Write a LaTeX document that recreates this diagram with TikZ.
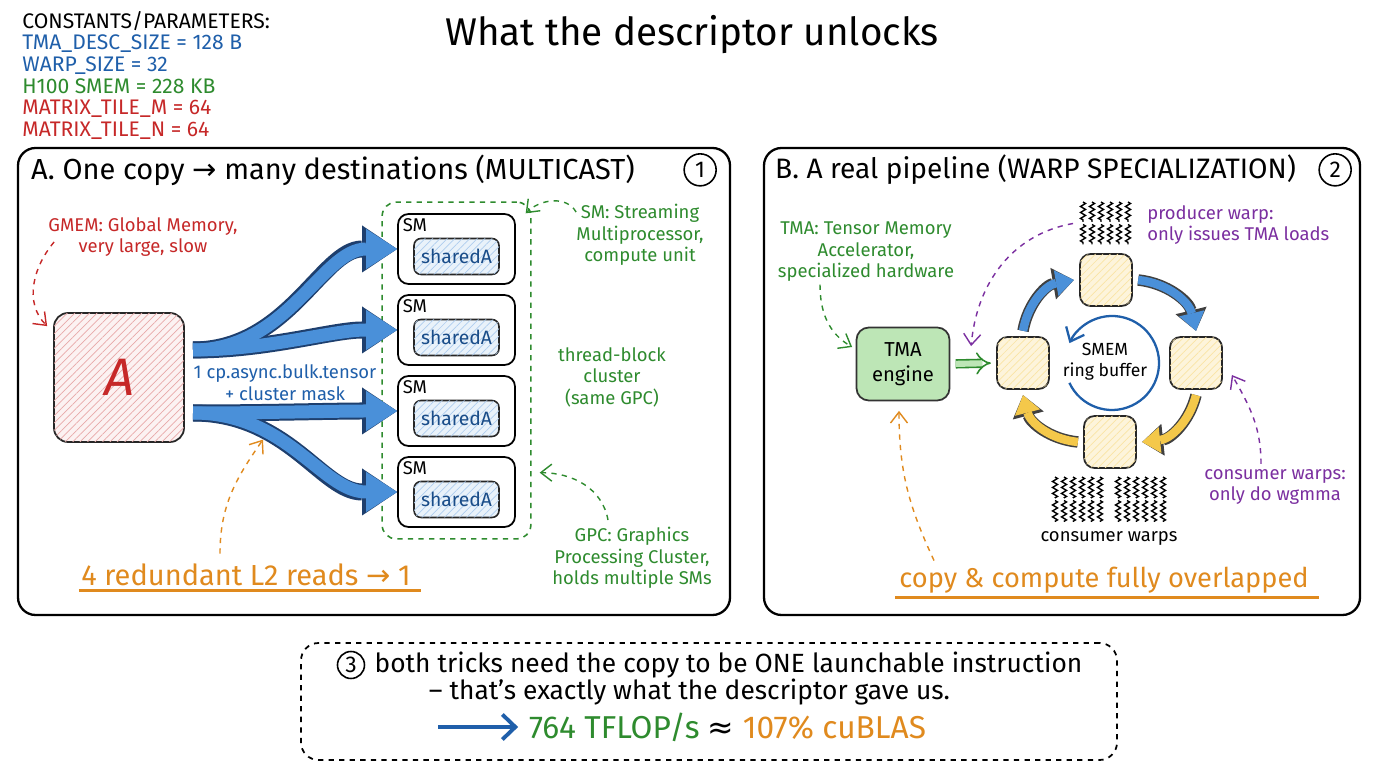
\documentclass[tikz,border=0pt]{standalone}
\usepackage{fontspec}
\setmainfont{Fira Sans}
\newfontfamily\dejavu{DejaVu Sans}
\usetikzlibrary{arrows.meta, positioning, calc, fit, patterns.meta, decorations.pathmorphing}
\definecolor{inkblue}{HTML}{1F5FAA}
\definecolor{inkgreen}{HTML}{2E8B2E}
\definecolor{inkred}{HTML}{C62828}
\definecolor{inkorange}{HTML}{E08A1E}
\definecolor{inkpurple}{HTML}{7B2FA0}
\definecolor{flowblue}{HTML}{4A90D9}
\definecolor{flowedge}{HTML}{1E3F6E}
\definecolor{ringyellow}{HTML}{F4C84A}
\definecolor{tmagreen}{HTML}{BDE6B6}
\tikzset{
    panel/.style={draw=black, line width=1.3pt, rounded corners=10pt, minimum height=9.34cm},
    paneltitle/.style={anchor=west, inner sep=0pt, font=\fontsize{16.5}{19}\selectfont},
    numcirc/.style={circle, draw=black, line width=0.9pt, minimum size=0.64cm, inner sep=0pt, font=\fontsize{13}{13}\selectfont},
    note/.style={align=center, inner sep=0pt, font=\fontsize{10.5}{12.2}\selectfont},
    notearrow/.style={dashed, line width=0.8pt, -{Straight Barb[length=2.2mm, width=3.4mm]}},
    hatch/.style={postaction={pattern={Lines[angle=45, distance=3pt, line width=0.4pt]}, pattern color=#1}},
    gmembox/.style={draw=black!85, line width=1pt, rounded corners=8pt, fill=inkred!6, hatch=inkred!40, minimum width=2.6cm, minimum height=2.58cm, text=inkred, font=\fontsize{30}{30}\selectfont\itshape},
    smbox/.style={draw=black, line width=1pt, rounded corners=6pt, minimum width=2.34cm, minimum height=1.4cm},
    sharedbox/.style={draw=black!85, line width=0.9pt, rounded corners=4pt, fill=flowblue!12, hatch=flowblue!45, minimum width=1.7cm, minimum height=0.72cm, text=inkblue!80!black, font=\fontsize{11}{11}\selectfont},
    cluster/.style={draw=inkgreen, dashed, line width=0.9pt, rounded corners=8pt, inner xsep=0.3cm, inner ysep=0.22cm},
    flowout/.style={draw=flowedge, line width=0.34cm, -{Triangle[length=0.7cm, width=0.94cm, line width=0pt]}},
    flowin/.style={draw=flowblue, line width=0.26cm, -{Triangle[length=0.62cm, width=0.8cm, line width=0pt]}},
    tmabox/.style={draw=black!80, line width=1pt, rounded corners=7pt, fill=tmagreen, minimum width=1.86cm, minimum height=1.46cm, align=center, font=\fontsize{11.5}{14}\selectfont},
    slotbox/.style={draw=black!85, line width=1pt, rounded corners=6pt, fill=ringyellow!20, hatch=ringyellow!50, minimum width=1.04cm, minimum height=1.04cm},
    hollowarrow/.style={draw=inkgreen, line width=0.9pt, double=tmagreen, double distance=3.5pt, -{Implies}},
    ringflow/.style={draw=#1, line width=0.17cm, -{Triangle[length=0.36cm, width=0.52cm, line width=0pt]},
        preaction={draw=black!75, line width=0.23cm, -{Triangle[length=0.42cm, width=0.64cm, line width=0pt]}}},
    warpline/.style={decorate, decoration={zigzag, segment length=3.4pt, amplitude=1.4pt}, line width=0.8pt},
    bignote/.style={inner sep=0pt, text=inkorange},
    underline/.style={draw=inkorange, line width=1.6pt}
}
\begin{document}
\begin{tikzpicture}
    \useasboundingbox (0,0) rectangle (27.52,15.36);
    \fill[white] (0,0) rectangle (27.52,15.36);

    % header
    \node[note, align=left, anchor=north west, font=\fontsize{12}{12.3}\selectfont] (consts) at (0.44,15.14) {CONSTANTS/PARAMETERS:\\
        \textcolor{inkblue}{TMA\_DESC\_SIZE = 128 B}\\
        \textcolor{inkblue}{WARP\_SIZE = 32}\\
        \textcolor{inkgreen}{H100 SMEM = 228 KB}\\
        \textcolor{inkred}{MATRIX\_TILE\_M = 64}\\
        \textcolor{inkred}{MATRIX\_TILE\_N = 64}};
    \node[font=\fontsize{22}{24}\selectfont] (title) at (13.84,14.66) {What the descriptor unlocks};

    % panels
    \node[panel, minimum width=14.24cm] (panelA) at (7.48,7.73) {};
    \node[panel, minimum width=11.92cm] (panelB) at (21.24,7.73) {};
    \node[paneltitle] (titleA) at ($(panelA.north west)+(0.28,-0.46)$) {A. One copy {\dejavu →} many destinations (MULTICAST)};
    \node[numcirc] (numA) at ($(panelA.north east)+(-0.62,-0.46)$) {1};
    \node[paneltitle, font=\fontsize{16}{19}\selectfont] (titleB) at ($(panelB.north west)+(0.24,-0.46)$) {B. A real pipeline (WARP SPECIALIZATION)};
    \node[numcirc] (numB) at ($(panelB.north east)+(-0.52,-0.46)$) {2};

    % A: multicast
    \node[note, text=inkred] (gmemlbl) at (2.86,10.62) {GMEM: Global Memory,\\very large, slow};
    \node[gmembox] (gmem) at (2.38,7.81) {A};
    \foreach \i/\y in {1/10.38, 2/8.76, 3/7.14, 4/5.52} {
        \node[smbox, label={[anchor=north west, inner sep=3pt, font=\fontsize{10.5}{11}\selectfont]north west:SM}] (sm\i) at (9.13,\y) {};
        \node[sharedbox] (sh\i) at ($(sm\i.center)+(0,-0.15)$) {sharedA};
    }
    \node[cluster, fit=(sm1)(sm4)] (cluster) {};
    \coordinate (trunkT) at (3.86,8.36);
    \coordinate (trunkB) at (3.86,7.10);
    \foreach \sty in {flowout, flowin} {
        \draw[\sty] (trunkT) .. controls +(1.9,0) and +(-1.5,0) .. (sm1.west);
        \draw[\sty] (trunkT) .. controls +(1.5,0) and +(-1.3,0) .. (sm2.west);
        \draw[\sty] (trunkB) .. controls +(1.5,0) and +(-1.3,0) .. (sm3.west);
        \draw[\sty] (trunkB) .. controls +(1.9,0) and +(-1.5,0) .. (sm4.west);
    }
    \node[note, text=inkblue] (copylbl) at (5.70,7.71) {1 cp.async.bulk.tensor\\+ cluster mask};
    \node[note, text=inkgreen] (smlbl) at (12.80,10.66) {SM: Streaming\\Multiprocessor,\\compute unit};
    \node[note, text=inkgreen] (threadlbl) at (12.24,7.82) {thread-block\\cluster\\(same GPC)};
    \node[note, text=inkgreen] (gpclbl) at (12.64,4.20) {GPC: Graphics\\Processing Cluster,\\holds multiple SMs};
    \node[bignote, font=\fontsize{16.5}{18}\selectfont] (l2note) at (4.92,3.86) {4 redundant L2 reads {\dejavu →} 1};
    \draw[underline] ($(l2note.south west)+(-0.04,-0.08)$) -- ($(l2note.south east)+(0.2,-0.08)$);

    \draw[notearrow, inkred] ($(gmemlbl.west)+(0.12,-0.1)$) to[out=230, in=135] ($(gmem.north west)+(-0.12,-0.28)$);
    \draw[notearrow, inkgreen] ($(smlbl.north west)+(0,-0.16)$) to[out=120, in=45] ($(cluster.north east)+(-0.12,-0.24)$);
    \draw[notearrow, inkgreen] ($(gpclbl.north)+(-0.48,0.14)$) to[out=100, in=0] ($(cluster.south east)+(0.16,1.34)$);
    \draw[notearrow, inkorange] ($(l2note.north)+(-0.52,0.2)$) to[out=90, in=235] ($(copylbl.south)+(-0.44,-0.78)$);

    % B: warp specialization
    \node[note, text=inkgreen] (tmalbl) at (17.32,10.32) {TMA: Tensor Memory\\Accelerator,\\specialized hardware};
    \node[tmabox] (tma) at (18.06,8.08) {TMA\\engine};
    \node[slotbox] (slotL) at (20.46,8.10) {};
    \node[slotbox] (slotT) at (22.12,9.76) {};
    \node[slotbox] (slotR) at (23.92,8.10) {};
    \node[slotbox] (slotB) at (22.20,6.52) {};
    \draw[hollowarrow, shorten <=3pt, shorten >=3pt] (tma.east) -- (slotL.west);

    \coordinate (ringc) at (22.24,8.10);
    \draw[inkblue, line width=1.3pt, -{Straight Barb[length=2.4mm, width=4mm]}] ([shift={(205:0.94cm)}]ringc) arc[start angle=205, end angle=515, radius=0.94cm];
    \node[align=center, font=\fontsize{10}{12}\selectfont] (smemlbl) at (22.10,8.12) {SMEM\\ring buffer};

    \draw[ringflow=flowblue] ([yshift=3pt]slotL.north) to[bend left=35] ([xshift=-3pt]slotT.west);
    \draw[ringflow=flowblue] ([xshift=3pt]slotT.east) to[bend left=35] ([yshift=3pt]slotR.north);
    \draw[ringflow=ringyellow] ([yshift=-3pt]slotR.south) to[bend left=35] ([xshift=3pt]slotB.east);
    \draw[ringflow=ringyellow] ([xshift=-3pt]slotB.west) to[bend left=35] ([yshift=-3pt]slotL.south);

    \coordinate (prodwarp) at (22.11,10.89);
    \coordinate (conswarp) at (22.18,5.36);
    \foreach \x in {0,...,5}
        \foreach \r in {0,1}
            \draw[warpline] ($(prodwarp)+(\x*0.18-0.45, 0.43-\r*0.45)$) -- ++(0,-0.4);
    \foreach \g in {-0.63, 0.63}
        \foreach \x in {0,...,5}
            \foreach \r in {0,1}
                \draw[warpline] ($(conswarp)+(\g+\x*0.18-0.45, 0.46-\r*0.47)$) -- ++(0,-0.42);
    \node[note] (conswarps) at (22.18,4.60) {consumer warps};
    \node[note, text=inkpurple, align=left, anchor=west] (prodlbl) at (22.94,10.86) {producer warp:\\only issues TMA loads};
    \node[note, text=inkpurple] (conslbl) at (25.50,5.62) {consumer warps:\\only do wgmma};
    \node[bignote, font=\fontsize{15.5}{18}\selectfont] (overlapnote) at (22.08,3.76) {copy \& compute fully overlapped};
    \draw[underline] ($(overlapnote.south west)+(-0.08,-0.08)$) -- ($(overlapnote.south east)+(0.2,-0.08)$);

    \draw[notearrow, inkgreen] ($(tmalbl.south)+(-0.92,-0.05)$) to[out=270, in=150] ($(tma.west)+(-0.07,0.34)$);
    \draw[notearrow, inkpurple] ($(prodwarp)+(-0.65,0)$) to[out=190, in=85] ($(slotL.north west)+(-0.5,-0.2)$);
    \draw[notearrow, inkpurple] ($(conslbl.north)+(-0.28,0.1)$) to[out=90, in=300] ($(slotR.east)+(0.18,-0.24)$);
    \draw[notearrow, inkorange] ($(overlapnote.north west)+(0.7,0.12)$) to[out=115, in=270] ($(tma.south)+(-0.08,-0.19)$);

    % summary
    \node[draw=black, dashed, line width=1pt, rounded corners=10pt, minimum width=16.32cm, minimum height=2.34cm] (summary) at (14.18,1.33) {};
    \node[inner sep=0pt, font=\fontsize{15}{18}\selectfont] (wrap1) at (14.57,2.06) {both tricks need the copy to be ONE launchable instruction};
    \node[numcirc, minimum size=0.54cm, left=0.18cm of wrap1] (numC) {3};
    \node[inner sep=0pt, font=\fontsize{15}{18}\selectfont] (wrap2) at (13.79,1.52) {– that’s exactly what the descriptor gave us.};
    \node[inner sep=0pt, font=\fontsize{18}{20}\selectfont] (result) at (14.55,0.82) {\textcolor{inkgreen}{764 TFLOP/s} {\dejavu ≈} \textcolor{inkorange}{107\% cuBLAS}};
    \coordinate (arrowtail) at (8.76,0.82);
    \draw[draw=inkblue, line width=2.2pt, -{Straight Barb[length=2.6mm, width=5mm]}, shorten >=6pt] (arrowtail) -- (result.west);
\end{tikzpicture}
\end{document}
